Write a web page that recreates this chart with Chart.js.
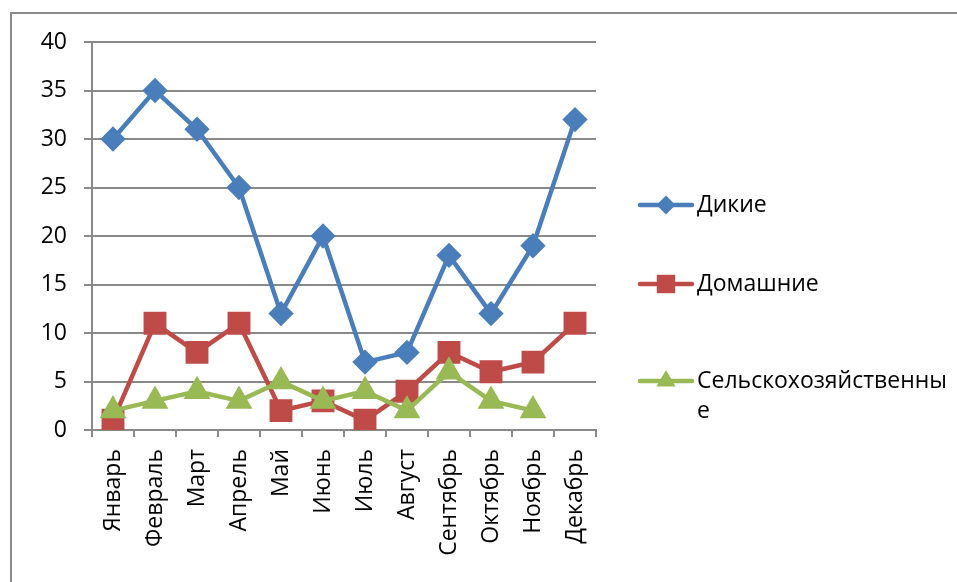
<!DOCTYPE html>
<html>
<head>
<meta charset="utf-8">
<script src="https://cdn.jsdelivr.net/npm/chart.js@4/dist/chart.umd.min.js"></script>
<style>
  html, body { margin: 0; padding: 0; background: #fff; overflow: hidden; }
  #wrap { position: relative; width: 957px; height: 582px; }
  #frame { position: absolute; left: 10px; top: 12px; width: 1000px; height: 1000px; border: 2px solid #898989; }
  #chart { position: absolute; left: 0; top: 0; }
</style>
</head>
<body>
<div id="wrap">
  <div id="frame"></div>
  <canvas id="chart" width="957" height="582"></canvas>
</div>
<script>
const months = ["Январь", "Февраль", "Март", "Апрель", "Май", "Июнь", "Июль", "Август", "Сентябрь", "Октябрь", "Ноябрь", "Декабрь"];
const wild = [30, 35, 31, 25, 12, 20, 7, 8, 18, 12, 19, 32];
const domestic = [1, 11, 8, 11, 2, 3, 1, 4, 8, 6, 7, 11];
const farm = [2, 3, 4, 3, 5, 3, 4, 2, 6, 3, 2, null];
const yTicks = [0, 5, 10, 15, 20, 25, 30, 35, 40];

const FONT = "'Open Sans', 'Noto Sans', sans-serif";
const FSIZE = 23;
const GRID = "#898989";

// legend on the right, drawn by hand so it wraps like the original
const sideLegend = {
  id: "sideLegend",
  afterDraw(chart) {
    const ctx = chart.ctx;
    const rows = [205, 284, 381];
    const maxW = 250;
    ctx.save();
    chart.data.datasets.forEach((ds, i) => {
      const y = rows[i];
      ctx.strokeStyle = ds.borderColor;
      ctx.lineWidth = 4.5;
      ctx.lineCap = "round";
      ctx.beginPath();
      ctx.moveTo(640, y);
      ctx.lineTo(692, y);
      ctx.stroke();
      drawMarker(ctx, ds.pointStyle, 666, y, ds.pointRadius, ds.borderColor);

      ctx.fillStyle = "#000";
      ctx.font = FSIZE + "px " + FONT;
      ctx.textBaseline = "middle";
      ctx.textAlign = "left";
      let line = "", ly = y;
      for (const ch of ds.label) {
        if (ctx.measureText(line + ch).width > maxW) {
          ctx.fillText(line, 697, ly);
          line = ch;
          ly += 30;
        } else line += ch;
      }
      ctx.fillText(line, 697, ly);
    });
    ctx.restore();
  },
};

function drawMarker(ctx, style, x, y, r, color) {
  ctx.fillStyle = color;
  ctx.beginPath();
  if (style === "rectRot") {
    ctx.moveTo(x, y - r); ctx.lineTo(x + r, y); ctx.lineTo(x, y + r); ctx.lineTo(x - r, y);
  } else if (style === "rect") {
    const h = r * Math.SQRT1_2;
    ctx.rect(x - h, y - h, h * 2, h * 2);
  } else {
    const s = r * Math.sqrt(3) / 2;
    ctx.moveTo(x, y - r); ctx.lineTo(x + s, y + r / 2); ctx.lineTo(x - s, y + r / 2);
  }
  ctx.closePath();
  ctx.fill();
}

new Chart(document.getElementById("chart"), {
  type: "line",
  data: {
    labels: months,
    datasets: [
      { label: "Дикие", data: wild, borderColor: "#4A7EBB", backgroundColor: "#4A7EBB",
        pointStyle: "rectRot", pointRadius: 9.5, borderWidth: 4.5, tension: 0, order: 3 },
      { label: "Домашние", data: domestic, borderColor: "#BE4B48", backgroundColor: "#BE4B48",
        pointStyle: "rect", pointRadius: 13, borderWidth: 4.5, tension: 0, order: 2 },
      { label: "Сельскохозяйственные", data: farm, borderColor: "#98B954", backgroundColor: "#98B954",
        pointStyle: "triangle", pointRadius: 11, borderWidth: 4.5, tension: 0, order: 1 },
    ],
  },
  options: {
    responsive: false,
    animation: false,
    layout: { padding: { left: 0, top: 42, right: 361, bottom: 0 } },
    plugins: { legend: { display: false }, tooltip: { enabled: false } },
    elements: { point: { borderWidth: 0 } },
    scales: {
      x: {
        offset: true,
        grid: { offset: true, drawOnChartArea: false, color: GRID, lineWidth: 2, tickLength: 7 },
        border: { color: GRID, width: 2 },
        ticks: { color: "#000", font: { family: FONT, size: FSIZE }, minRotation: 90, maxRotation: 90, padding: 12 },
        afterFit(s) { s.height = 152; },
      },
      y: {
        min: 0, max: 40,
        afterBuildTicks(s) { s.ticks = yTicks.map((v) => ({ value: v })); },
        grid: { color: GRID, lineWidth: 2, tickLength: 8 },
        border: { color: GRID, width: 2 },
        ticks: { color: "#000", font: { family: FONT, size: FSIZE }, padding: 17 },
        afterFit(s) { s.width = 92; },
      },
    },
  },
  plugins: [sideLegend],
});
</script>
</body>
</html>
